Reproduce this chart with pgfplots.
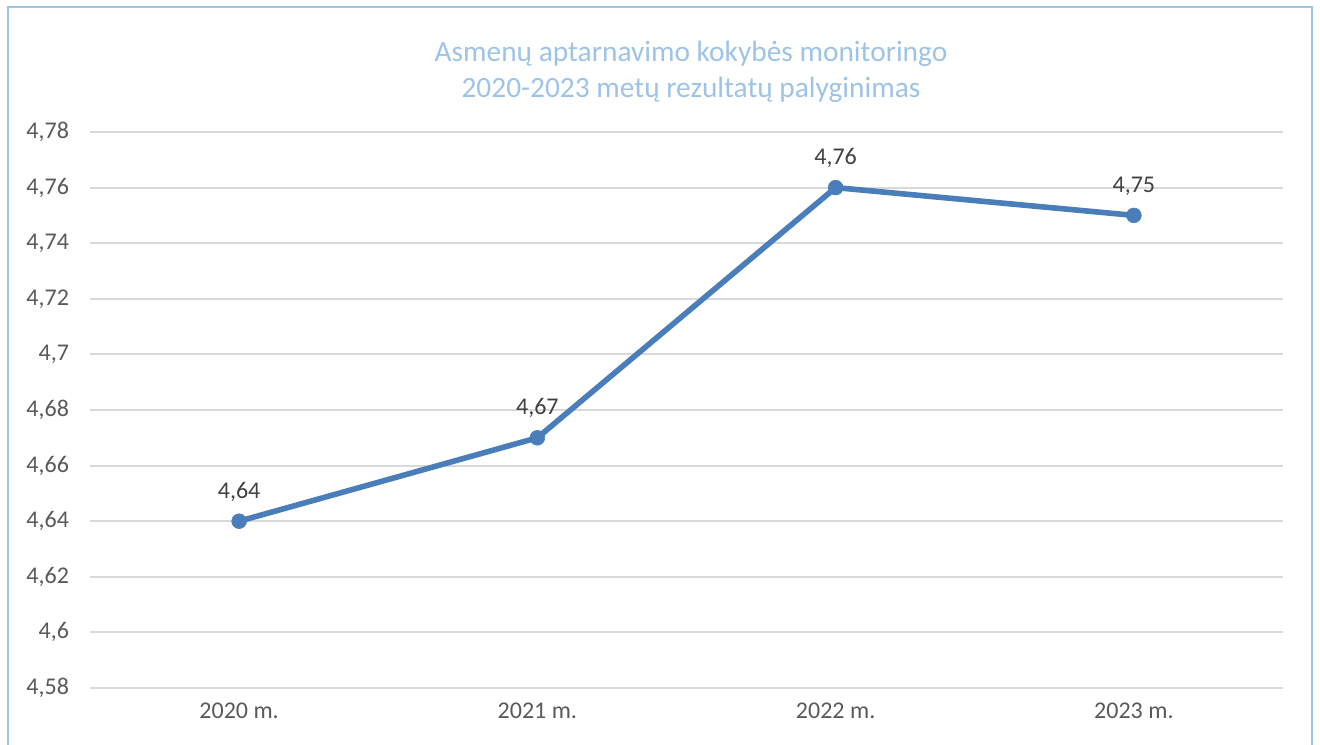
\documentclass[border=0pt]{standalone}
\usepackage{pgfplots}
\pgfplotsset{compat=1.18}
\usepackage{fontspec}
\setmainfont{Carlito}
\definecolor{framecol}{HTML}{9DC3E6}
\definecolor{titlecol}{HTML}{9DC3E6}
\definecolor{linecol}{HTML}{4A7EBB}
\definecolor{gridcol}{HTML}{D9D9D9}
\definecolor{tickcol}{HTML}{595959}
\definecolor{labcol}{HTML}{404040}
\begin{document}
\begin{tikzpicture}
\useasboundingbox (0,0) rectangle (660pt,372pt);
\clip (0,0) rectangle (660pt,372pt);
% outer chart frame (open at the bottom edge of the page)
\draw[framecol, line width=1.2pt] (4pt,-5pt) -- (4pt,368.5pt) -- (656pt,368.5pt) -- (656pt,-5pt);
% title
\node[font=\fontsize{14.7}{18}\selectfont, text=titlecol, align=center] at (345.5pt,336pt)
  {Asmenų aptarnavimo kokybės monitoringo\\2020-2023 metų rezultatų palyginimas};
\begin{axis}[
  at={(45pt,28pt)}, anchor=south west,
  scale only axis,
  width=596.5pt, height=278pt,
  xmin=-0.5, xmax=3.5,
  ymin=4.58, ymax=4.78,
  ytick={4.58,4.60,...,4.78},
  xtick={0,1,2,3},
  xticklabels={2020 m.,2021 m.,2022 m.,2023 m.},
  axis line style={draw=none},
  major tick length=0pt,
  ymajorgrids,
  grid style={gridcol, line width=1pt},
  tick label style={font=\fontsize{12}{14}\selectfont, text=tickcol},
  yticklabel style={xshift=-7pt},
  xticklabel style={yshift=-4pt},
  /pgf/number format/.cd, use comma, fixed, precision=2, assume math mode=true,
]
\addplot[linecol, line width=2.8pt, mark=*, mark size=3.7pt,
  mark options={fill=linecol, draw=linecol, line width=0.3pt},
  nodes near coords,
  every node near coord/.append style={font=\fontsize{12}{14}\selectfont, text=labcol, anchor=south, yshift=6.5pt,
    /pgf/number format/.cd, use comma, fixed, precision=2, assume math mode=true},
] coordinates {(0,4.64) (1,4.67) (2,4.76) (3,4.75)};
\end{axis}
\end{tikzpicture}
\end{document}
